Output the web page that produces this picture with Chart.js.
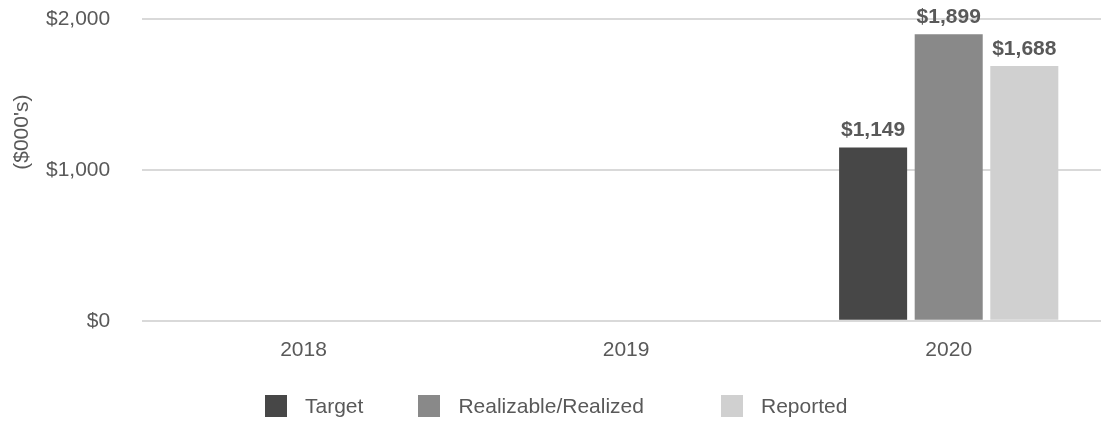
<!DOCTYPE html>
<html>
<head>
<meta charset="utf-8">
<script src="https://cdn.jsdelivr.net/npm/chart.js@4"></script>
<style>
  html, body { margin: 0; padding: 0; background: #fff; overflow: hidden; }
  #wrap { position: relative; width: 1101px; height: 425px; overflow: hidden; }
  #grafico { position: absolute; left: 0; top: 0; }
  #leyenda {
    position: absolute; left: 265px; top: 395px; height: 22px;
    display: flex; align-items: center;
    font-family: "Liberation Sans", Arial, sans-serif; font-size: 21px; color: #595959;
  }
  #leyenda .item { display: flex; align-items: center; }
  #leyenda .caja { width: 22px; height: 22px; margin-right: 18px; }
</style>
</head>
<body>
<div id="wrap">
  <canvas id="grafico" width="1110" height="425"></canvas>
  <div id="leyenda"></div>
</div>
<script>
const years = ["2018", "2019", "2020"];
const target = [null, null, 1149];
const realized = [null, null, 1899];
const reported = [null, null, 1688];
const seriesNames = ["Target", "Realizable/Realized", "Reported"];
const seriesColors = ["#474747", "#898989", "#d0d0d0"];
const yTicks = [0, 1000, 2000];

const fuente = "'Liberation Sans', Arial, sans-serif";
const gris = "#595959";

// etiquetas de valor encima de cada barra
const etiquetas = {
  id: "etiquetas",
  afterDatasetsDraw(chart) {
    const ctx = chart.ctx;
    ctx.save();
    ctx.font = "bold 21px " + fuente;
    ctx.fillStyle = gris;
    ctx.textAlign = "center";
    ctx.textBaseline = "alphabetic";
    chart.data.datasets.forEach((ds, i) => {
      chart.getDatasetMeta(i).data.forEach((bar, j) => {
        const v = ds.data[j];
        if (v == null) return;
        ctx.fillText("$" + v.toLocaleString("en-US"), bar.x, bar.y - 11);
      });
    });
    ctx.restore();
  }
};

// titulo del eje Y
const tituloY = {
  id: "tituloY",
  afterDraw(chart) {
    const ctx = chart.ctx;
    ctx.save();
    ctx.font = "21px " + fuente;
    ctx.fillStyle = gris;
    ctx.textAlign = "center";
    ctx.textBaseline = "middle";
    ctx.translate(22, chart.scales.y.getPixelForValue(1250));
    ctx.rotate(-Math.PI / 2);
    ctx.fillText("($000's)", 0, 0);
    ctx.restore();
  }
};

const datos = [target, realized, reported];

const grafico = new Chart(document.getElementById("grafico").getContext("2d"), {
  type: "bar",
  data: {
    labels: years,
    datasets: datos.map((d, i) => ({
      label: seriesNames[i],
      data: d,
      backgroundColor: seriesColors[i],
      borderWidth: 0,
      categoryPercentage: 0.703,
      barPercentage: 0.9,
    })),
  },
  options: {
    responsive: false,
    animation: false,
    layout: { padding: { top: 19, left: 14, right: 0, bottom: 53 } },
    plugins: {
      legend: { display: false },
      tooltip: { enabled: false },
    },
    scales: {
      x: {
        grid: { display: false },
        border: { display: false },
        ticks: { color: gris, font: { family: fuente, size: 21 }, padding: 9 },
      },
      y: {
        min: yTicks[0],
        max: yTicks[yTicks.length - 1],
        afterBuildTicks: (s) => { s.ticks = yTicks.map((v) => ({ value: v })); },
        afterFit: (s) => { s.paddingTop = 0; s.paddingBottom = 0; },
        grid: { color: "#d9d9d9", lineWidth: 2, drawTicks: false },
        border: { display: false },
        ticks: {
          color: gris,
          font: { family: fuente, size: 21 },
          padding: 32,
          callback: (v) => "$" + v.toLocaleString("en-US"),
        },
      },
    },
  },
  plugins: [etiquetas, tituloY],
});

// leyenda en HTML
const margenes = [55, 77, 0];
const leyenda = document.getElementById("leyenda");
grafico.data.datasets.forEach((ds, i) => {
  const item = document.createElement("div");
  item.className = "item";
  item.style.marginRight = margenes[i] + "px";
  item.innerHTML = `<span class="caja" style="background:${ds.backgroundColor}"></span><span>${ds.label}</span>`;
  leyenda.appendChild(item);
});
</script>
</body>
</html>
